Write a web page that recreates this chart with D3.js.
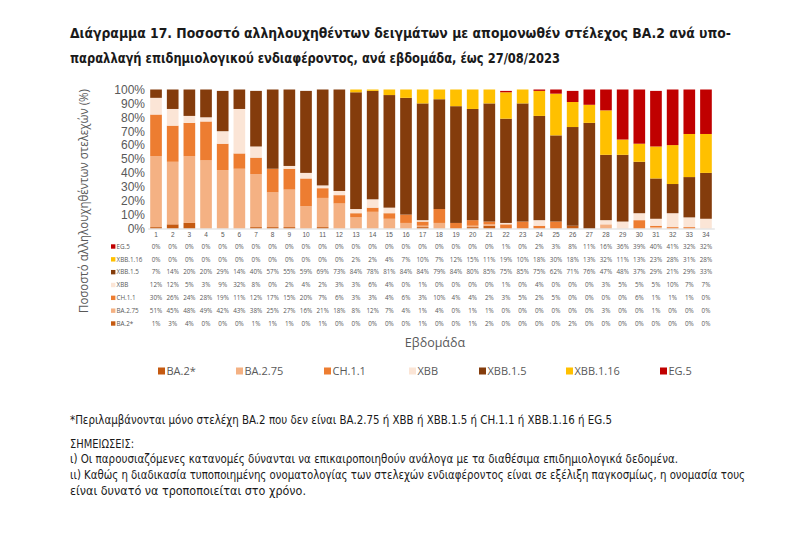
<!DOCTYPE html>
<html><head><meta charset="utf-8">
<script src="https://cdn.jsdelivr.net/npm/d3@7"></script>
<style>
html,body{margin:0;padding:0;background:#fff;}
svg{display:block;font-family:"Open Sans","Liberation Sans",sans-serif;}
</style></head>
<body>
<svg id="c" width="800" height="544"></svg>
<script>
const weeks = d3.range(1, 35);
const seriesNames = ["BA.2*", "BA.2.75", "CH.1.1", "XBB", "XBB.1.5", "XBB.1.16", "EG.5"];
const seriesColors = ["#C55A11", "#F4B183", "#ED7D31", "#FBE5D6", "#843C0C", "#FFC000", "#C00000"];
const BA2star = [1,3,4,0,0,0,1,1,1,0,1,0, 0,0,0,0,1,0,0,1,2,0,0,0,0, 2,0,0,0,0,0,0,0,0];
const BA275   = [51,45,48,49,42,43,38,25,27,16,21,18, 8,12,7,4,1,4,0,1,1,0,0,0,0, 0,0,3,0,0,1,0,0,0];
const CH11    = [30,26,24,28,19,11,12,17,15,20,7,6, 3,3,4,6,3,10,4,4,2,3,5,2,5, 0,0,0,0,6,1,1,1,0];
const XBB     = [12,12,5,3,9,32,8,0,2,4,2,3, 3,6,4,0,1,0,0,0,0,1,0,4,0, 0,0,3,5,5,5,10,7,7];
const XBB15   = [7,14,20,20,29,14,40,57,55,59,69,73, 84,78,81,84,84,79,84,80,85,75,85,75,62, 71,76,47,48,37,29,21,29,33];
const XBB116  = [0,0,0,0,0,0,0,0,0,0,0,0, 2,2,4,7,10,7,12,15,11,19,10,18,30, 18,13,32,11,13,23,28,31,28];
const EG5     = [0,0,0,0,0,0,0,0,0,0,0,0, 0,0,0,0,0,0,0,0,0,1,0,2,3, 8,11,16,36,39,40,41,32,32];
const yTicks = [0,10,20,30,40,50,60,70,80,90,100];

const title1 = "Διάγραμμα 17. Ποσοστό αλληλουχηθέντων δειγμάτων με απομονωθέν στέλεχος BA.2 ανά υπο-";
const title2 = "παραλλαγή επιδημιολογικού ενδιαφέροντος, ανά εβδομάδα, έως 27/08/2023";
const yTitle = "Ποσοστό αλληλουχηθέντων στελεχών (%)";
const xTitle = "Εβδομάδα";
const notes = [
  "*Περιλαμβάνονται μόνο στελέχη BA.2 που δεν είναι BA.2.75 ή XBB ή XBB.1.5 ή CH.1.1 ή XBB.1.16 ή EG.5",
  "ΣΗΜΕΙΩΣΕΙΣ:",
  "ι) Οι παρουσιαζόμενες κατανομές δύνανται να επικαιροποιηθούν ανάλογα με τα διαθέσιμα επιδημιολογικά δεδομένα.",
  "ιι) Καθώς η διαδικασία τυποποιημένης ονοματολογίας των στελεχών ενδιαφέροντος είναι σε εξέλιξη παγκοσμίως, η ονομασία τους",
  "είναι δυνατό να τροποποιείται στο χρόνο."
];

const seriesValues = [BA2star, BA275, CH11, XBB, XBB15, XBB116, EG5];
const rows = weeks.map((w, i) => {
  const r = {week: w};
  seriesNames.forEach((s, j) => r[s] = seriesValues[j][i]);
  return r;
});

const svg = d3.select("#c");
const grey = "#595959";
const narrow = "'Liberation Sans Narrow','DejaVu Sans Condensed','Open Sans',sans-serif";

const x = d3.scaleBand().domain(weeks).range([147.7, 714.3]).paddingInner(0.3).paddingOuter(0.15);
const y = d3.scaleLinear().domain([0, 100]).range([228.5, 89.5]);
const color = d3.scaleOrdinal().domain(seriesNames).range(seriesColors);

// Title
svg.append("text").attr("x", 70).attr("y", 38).attr("font-size", 14).attr("font-weight", "bold")
  .attr("font-family", narrow)
  .attr("fill", "#1a1a1a").attr("textLength", 661).attr("lengthAdjust", "spacingAndGlyphs").text(title1);
svg.append("text").attr("x", 70).attr("y", 63).attr("font-size", 14).attr("font-weight", "bold")
  .attr("font-family", narrow)
  .attr("fill", "#1a1a1a").attr("textLength", 490).attr("lengthAdjust", "spacingAndGlyphs").text(title2);

// Bars
const stack = d3.stack().keys(seriesNames);
const stacked = stack(rows);
const clip = v => Math.min(v, 100);
svg.append("g").selectAll("g").data(stacked).join("g")
  .attr("fill", d => color(d.key))
  .selectAll("rect").data(d => d).join("rect")
  .attr("x", d => x(d.data.week))
  .attr("width", x.bandwidth())
  .attr("y", d => y(clip(d[1])))
  .attr("height", d => Math.max(0, y(clip(d[0])) - y(clip(d[1]))));

// Y axis
const yAxis = svg.append("g").attr("transform", "translate(147,0)")
  .call(d3.axisLeft(y).tickValues(yTicks).tickFormat(d => d + "%").tickSize(0).tickPadding(2));
yAxis.select(".domain").remove();
yAxis.selectAll("text").attr("font-size", 12).attr("fill", grey).attr("font-family", "'Liberation Sans',sans-serif");

// X axis (week numbers)
const xAxis = svg.append("g").attr("transform", `translate(0,${y(0)})`)
  .call(d3.axisBottom(x).tickSize(0).tickPadding(3.5));
xAxis.select(".domain").attr("stroke", "#d9d9d9").attr("stroke-width", 1);
xAxis.selectAll("text").attr("font-size", 6.5).attr("fill", grey);

// Data table
const tableOrder = seriesNames.slice().reverse();
const rowY = d3.scalePoint().domain(tableOrder).range([246.5, 323.5]);
const tbl = svg.append("g");
tableOrder.forEach(s => {
  const vals = seriesValues[seriesNames.indexOf(s)];
  const g = tbl.append("g");
  g.append("rect").attr("x", 111).attr("y", rowY(s) - 2.2).attr("width", 4.4).attr("height", 4.4).attr("fill", color(s));
  g.append("text").attr("x", 116.5).attr("y", rowY(s)).attr("dy", "0.35em").attr("font-size", 6.3).attr("fill", grey).text(s);
  g.selectAll("text.v").data(vals).join("text").attr("class", "v")
    .attr("x", (d, i) => x(weeks[i]) + x.bandwidth() / 2)
    .attr("y", rowY(s)).attr("dy", "0.35em").attr("text-anchor", "middle")
    .attr("font-size", 6.3).attr("fill", grey).text(d => d + "%");
});

// Y title
svg.append("text").attr("transform", "translate(88,201) rotate(-90)").attr("text-anchor", "middle")
  .attr("font-size", 12.5).attr("fill", grey).attr("textLength", 224).attr("lengthAdjust", "spacingAndGlyphs").text(yTitle);

// X title
svg.append("text").attr("x", 435).attr("y", 343).attr("dy", "0.35em").attr("text-anchor", "middle")
  .attr("font-size", 12.5).attr("fill", grey).text(xTitle);

// Legend
const legX = [158, 236, 324, 409, 479, 566, 660];
const leg = svg.append("g").selectAll("g").data(seriesNames).join("g")
  .attr("transform", (d, i) => `translate(${legX[i]},371)`);
leg.append("rect").attr("x", 0).attr("y", -3.5).attr("width", 7).attr("height", 7).attr("fill", d => color(d));
leg.append("text").attr("x", 8.5).attr("y", 0).attr("dy", "0.35em").attr("font-size", 11).attr("fill", grey).text(d => d);

// Notes
const noteY = [420, 444, 459, 475, 491];
const noteW = [542, 64, 608, 675, 236];
notes.forEach((t, i) => {
  svg.append("text").attr("x", 70).attr("y", noteY[i]).attr("dy", "0.35em").attr("font-size", 11.5)
    .attr("font-family", narrow)
    .attr("fill", "#1a1a1a").attr("textLength", noteW[i]).attr("lengthAdjust", "spacingAndGlyphs").text(t);
});
</script>
</body></html>
